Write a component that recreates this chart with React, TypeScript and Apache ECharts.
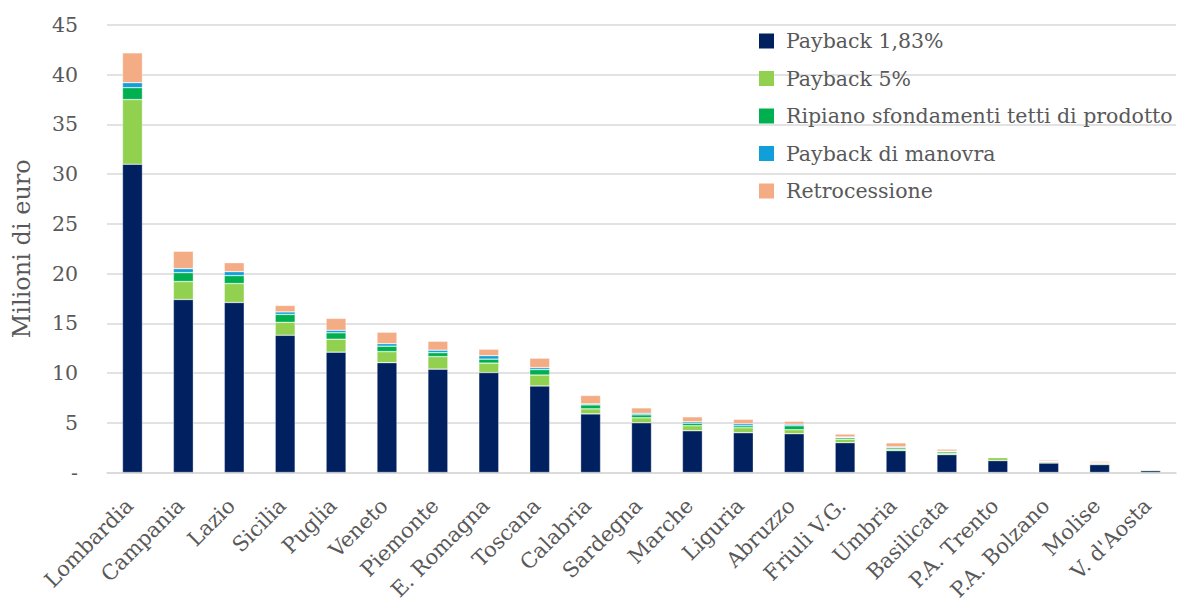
import React, { useEffect, useRef } from "react";
import * as echarts from "echarts";

const categories = [
  "Lombardia", "Campania", "Lazio", "Sicilia", "Puglia", "Veneto", "Piemonte",
  "E. Romagna", "Toscana", "Calabria", "Sardegna", "Marche", "Liguria", "Abruzzo",
  "Friuli V.G.", "Umbria", "Basilicata", "P.A. Trento", "P.A. Bolzano", "Molise", "V. d'Aosta",
];

const payback183 = [31.0, 17.4, 17.1, 13.8, 12.1, 11.05, 10.4, 10.05, 8.7, 5.9, 5.0, 4.2, 4.0, 3.9, 3.0, 2.2, 1.8, 1.2, 0.95, 0.8, 0.18];
const payback5 = [6.5, 1.8, 1.9, 1.3, 1.3, 1.1, 1.25, 0.95, 1.1, 0.5, 0.5, 0.5, 0.5, 0.4, 0.35, 0.15, 0.15, 0.3, 0.12, 0.12, 0.1];
const ripiano = [1.2, 0.9, 0.8, 0.8, 0.65, 0.55, 0.4, 0.4, 0.55, 0.4, 0.3, 0.25, 0.2, 0.4, 0.15, 0.15, 0.15, 0.05, 0.05, 0.05, 0.04];
const manovra = [0.5, 0.4, 0.4, 0.25, 0.25, 0.26, 0.25, 0.35, 0.2, 0.1, 0.15, 0.15, 0.2, 0.15, 0.07, 0.08, 0.05, 0.02, 0.02, 0.02, 0.01];
const retrocessione = [3.0, 1.75, 0.9, 0.65, 1.2, 1.15, 0.9, 0.65, 0.95, 0.85, 0.55, 0.5, 0.45, 0.3, 0.3, 0.4, 0.2, 0.03, 0.12, 0.13, 0.02];

const seriesNames = [
  "Payback 1,83%",
  "Payback 5%",
  "Ripiano sfondamenti tetti di prodotto",
  "Payback di manovra",
  "Retrocessione",
];
const seriesColors = ["#002060", "#92D050", "#00B050", "#109FD8", "#F4AC84"];
const seriesData = [payback183, payback5, ripiano, manovra, retrocessione];

const FONT = "DejaVu Serif";
const TXT = "#595959";

export default function App() {
  const ref = useRef<HTMLDivElement>(null);
  useEffect(() => {
    if (!ref.current) return;
    const chart = echarts.init(ref.current, null, { renderer: "svg" });
    chart.setOption({
      animation: false,
      textStyle: { fontFamily: FONT },
      grid: {
        left: 107,
        right: 9,
        top: 25,
        bottom: 130.5,
        containLabel: false,
        outerBoundsMode: "none",
      },
      legend: {
        orient: "vertical",
        left: 754,
        top: 25,
        itemWidth: 15,
        itemHeight: 15,
        itemGap: 15.5,
        icon: "rect",
        itemStyle: { borderWidth: 0 },
        textStyle: { fontFamily: FONT, fontSize: 20.5, color: TXT, lineHeight: 22, padding: [0, 0, 0, 7] },
        data: seriesNames,
      },
      xAxis: {
        type: "category",
        data: categories,
        axisLine: { show: true, lineStyle: { color: "#d9d9d9", width: 1.5 } },
        axisTick: { show: false },
        axisLabel: {
          interval: 0,
          rotate: 45,
          margin: 27,
          padding: [0, 4, 0, 0],
          fontFamily: FONT,
          fontSize: 21,
          color: TXT,
        },
      },
      yAxis: {
        type: "value",
        min: 0,
        max: 45,
        interval: 5,
        name: "Milioni di euro",
        nameLocation: "middle",
        nameGap: 73,
        nameTextStyle: { fontFamily: FONT, fontSize: 24, color: TXT },
        axisLine: { show: false },
        axisTick: { show: false },
        splitLine: { lineStyle: { color: "#d9d9d9", width: 1.5 } },
        axisLabel: {
          margin: 29,
          fontFamily: FONT,
          fontSize: 20.5,
          color: TXT,
          formatter: (v: number) => (v === 0 ? "-" : String(v)),
        },
      },
      series: seriesNames.map((name, i) => ({
        name,
        type: "bar",
        stack: "total",
        barWidth: 20,
        data: seriesData[i],
        itemStyle: {
          color: seriesColors[i],
          borderColor: "rgba(255,255,255,0.55)",
          borderWidth: 0.6,
        },
      })),
    });
    return () => chart.dispose();
  }, []);
  return (
    <div
      ref={ref}
      style={{ position: "absolute", left: 0, top: 0, width: 1185, height: 603, overflow: "hidden" }}
    />
  );
}
